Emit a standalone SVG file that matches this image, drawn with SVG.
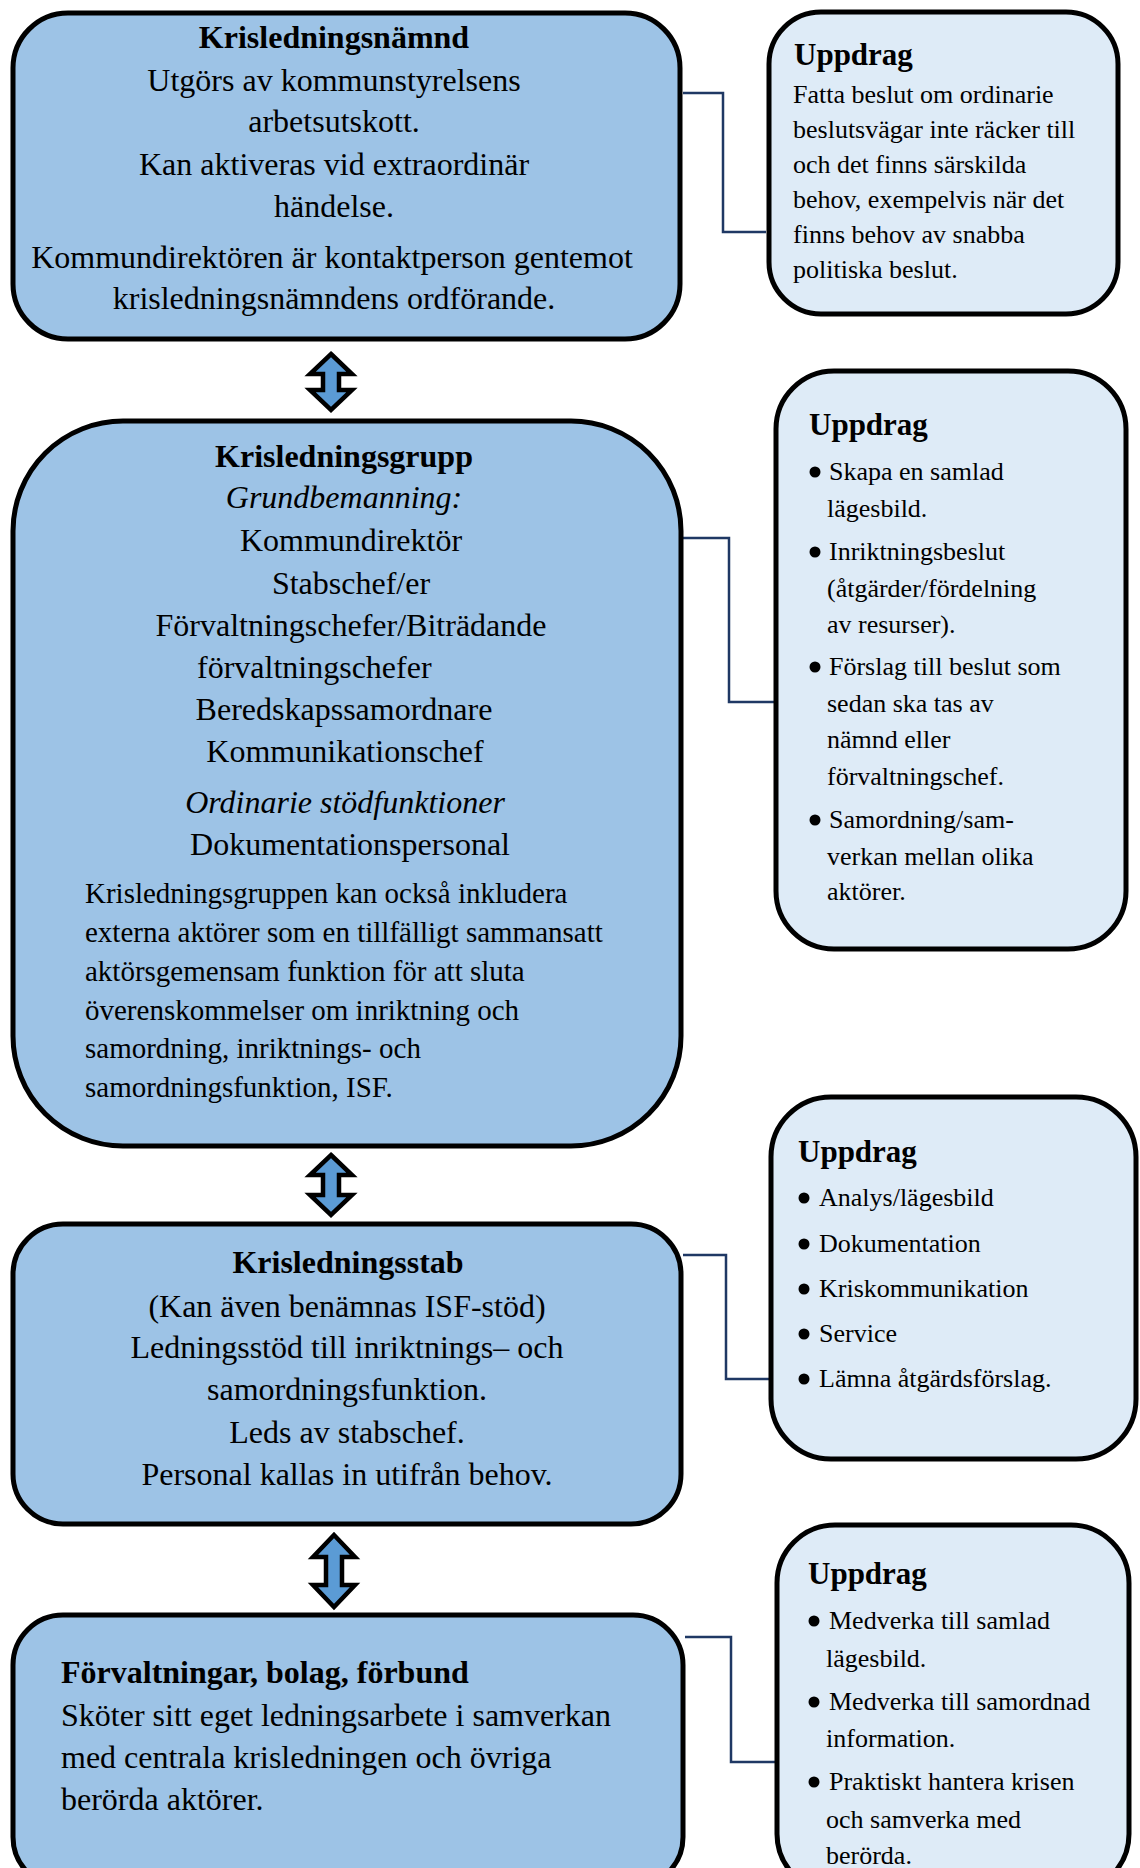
<svg xmlns="http://www.w3.org/2000/svg" width="1140" height="1868" viewBox="0 0 1140 1868">
<defs>
<style>
.main{fill:#9DC3E6;stroke:#000;stroke-width:5}
.side{fill:#DEEBF7;stroke:#000;stroke-width:5}
.conn{fill:none;stroke:#1F3864;stroke-width:2.5}
.arr{fill:#5B9BD5;stroke:#000;stroke-width:4.5;stroke-linejoin:miter}
text{font-family:"Liberation Serif","Times New Roman",serif;fill:#000}
.t32{font-size:32px}
.t29{font-size:29px}
.t26{font-size:26px}
.b{font-weight:bold}
.i{font-style:italic}
.c{text-anchor:middle}
.h{font-size:31px;font-weight:bold}
.dot{fill:#000}
</style>
</defs>
<rect width="1140" height="1868" fill="#fff"/>

<g id="connectors">
<path class="conn" d="M683,93 H723 V232 H766"/>
<path class="conn" d="M683,538 H729 V702 H776"/>
<path class="conn" d="M683,1255 H726 V1379 H771"/>
<path class="conn" d="M685,1637 H731 V1762 H777"/>
<path class="arr" d="M331 354 L352 374 L339 374 L339 390 L352 390 L331 410 L310 390 L323 390 L323 374 L310 374 Z"/>
<path class="arr" d="M331 1155 L352 1175 L339 1175 L339 1195 L352 1195 L331 1215 L310 1195 L323 1195 L323 1175 L310 1175 Z"/>
<path class="arr" d="M334 1535 L355 1557 L342 1557 L342 1585 L355 1585 L334 1607 L313 1585 L326 1585 L326 1557 L313 1557 Z"/>
</g>

<g id="krisledningsnamnd">
<rect class="main" x="13" y="13" width="667" height="326" rx="55" ry="55"/>
<text class="t32 b c" x="334" y="48">Krisledningsnämnd</text>
<text class="t32 c" x="334" y="91">Utgörs av kommunstyrelsens</text>
<text class="t32 c" x="334" y="132">arbetsutskott.</text>
<text class="t32 c" x="334" y="175">Kan aktiveras vid extraordinär</text>
<text class="t32 c" x="334" y="217">händelse.</text>
<text class="t32 c" x="332" y="268">Kommundirektören är kontaktperson gentemot</text>
<text class="t32 c" x="334" y="309">krisledningsnämndens ordförande.</text>
</g>

<g id="uppdrag1">
<rect class="side" x="769" y="12" width="349" height="302" rx="52" ry="52"/>
<text class="h" x="794" y="65">Uppdrag</text>
<text class="t26" x="793" y="103">Fatta beslut om ordinarie</text>
<text class="t26" x="793" y="138">beslutsvägar inte räcker till</text>
<text class="t26" x="793" y="173">och det finns särskilda</text>
<text class="t26" x="793" y="208">behov, exempelvis när det</text>
<text class="t26" x="793" y="243">finns behov av snabba</text>
<text class="t26" x="793" y="278">politiska beslut.</text>
</g>

<g id="krisledningsgrupp">
<rect class="main" x="13" y="421" width="668" height="725" rx="110" ry="110"/>
<text class="t32 b c" x="344" y="467">Krisledningsgrupp</text>
<text class="t32 i c" x="344" y="508">Grundbemanning:</text>
<text class="t32 c" x="351" y="551">Kommundirektör</text>
<text class="t32 c" x="351" y="594">Stabschef/er</text>
<text class="t32 c" x="351" y="636">Förvaltningschefer/Biträdande</text>
<text class="t32" x="197" y="678">förvaltningschefer</text>
<text class="t32 c" x="344" y="720">Beredskapssamordnare</text>
<text class="t32 c" x="345" y="762">Kommunikationschef</text>
<text class="t32 i c" x="345" y="813">Ordinarie stödfunktioner</text>
<text class="t32 c" x="350" y="855">Dokumentationspersonal</text>
<text class="t29" x="85" y="903">Krisledningsgruppen kan också inkludera</text>
<text class="t29" x="85" y="942">externa aktörer som en tillfälligt sammansatt</text>
<text class="t29" x="85" y="981">aktörsgemensam funktion för att sluta</text>
<text class="t29" x="85" y="1020">överenskommelser om inriktning och</text>
<text class="t29" x="85" y="1058">samordning, inriktnings- och</text>
<text class="t29" x="85" y="1097">samordningsfunktion, ISF.</text>
</g>

<g id="uppdrag2">
<rect class="side" x="776" y="371" width="350" height="578" rx="58" ry="58"/>
<text class="h" x="809" y="435">Uppdrag</text>
<circle class="dot" cx="815" cy="472" r="5.5"/>
<text class="t26" x="829" y="480">Skapa en samlad</text>
<text class="t26" x="827" y="517">lägesbild.</text>
<circle class="dot" cx="815" cy="552" r="5.5"/>
<text class="t26" x="829" y="560">Inriktningsbeslut</text>
<text class="t26" x="827" y="597">(åtgärder/fördelning</text>
<text class="t26" x="827" y="633">av resurser).</text>
<circle class="dot" cx="815" cy="667" r="5.5"/>
<text class="t26" x="829" y="675">Förslag till beslut som</text>
<text class="t26" x="827" y="712">sedan ska tas av</text>
<text class="t26" x="827" y="748">nämnd eller</text>
<text class="t26" x="827" y="785">förvaltningschef.</text>
<circle class="dot" cx="815" cy="820" r="5.5"/>
<text class="t26" x="829" y="828">Samordning/sam-</text>
<text class="t26" x="827" y="865">verkan mellan olika</text>
<text class="t26" x="827" y="900">aktörer.</text>
</g>

<g id="krisledningsstab">
<rect class="main" x="13" y="1224" width="668" height="300" rx="50" ry="50"/>
<text class="t32 b c" x="348" y="1273">Krisledningsstab</text>
<text class="t32 c" x="347" y="1317">(Kan även benämnas ISF-stöd)</text>
<text class="t32 c" x="347" y="1358">Ledningsstöd till inriktnings– och</text>
<text class="t32 c" x="347" y="1400">samordningsfunktion.</text>
<text class="t32 c" x="347" y="1443">Leds av stabschef.</text>
<text class="t32 c" x="347" y="1485">Personal kallas in utifrån behov.</text>
</g>

<g id="uppdrag3">
<rect class="side" x="771" y="1097" width="365" height="362" rx="60" ry="60"/>
<text class="h" x="798" y="1162">Uppdrag</text>
<circle class="dot" cx="804" cy="1198" r="5.5"/>
<text class="t26" x="819" y="1206">Analys/lägesbild</text>
<circle class="dot" cx="804" cy="1244" r="5.5"/>
<text class="t26" x="819" y="1252">Dokumentation</text>
<circle class="dot" cx="804" cy="1289" r="5.5"/>
<text class="t26" x="819" y="1297">Kriskommunikation</text>
<circle class="dot" cx="804" cy="1334" r="5.5"/>
<text class="t26" x="819" y="1342">Service</text>
<circle class="dot" cx="804" cy="1379" r="5.5"/>
<text class="t26" x="819" y="1387">Lämna åtgärdsförslag.</text>
</g>

<g id="forvaltningar">
<rect class="main" x="13" y="1615" width="670" height="272" rx="50" ry="50"/>
<text class="t32 b" x="61" y="1683">Förvaltningar, bolag, förbund</text>
<text class="t32" x="61" y="1726">Sköter sitt eget ledningsarbete i samverkan</text>
<text class="t32" x="61" y="1768">med centrala krisledningen och övriga</text>
<text class="t32" x="61" y="1810">berörda aktörer.</text>
</g>

<g id="uppdrag4">
<rect class="side" x="777" y="1525" width="352" height="367" rx="58" ry="58"/>
<text class="h" x="808" y="1584">Uppdrag</text>
<circle class="dot" cx="814" cy="1621" r="5.5"/>
<text class="t26" x="829" y="1629">Medverka till samlad</text>
<text class="t26" x="826" y="1667">lägesbild.</text>
<circle class="dot" cx="814" cy="1702" r="5.5"/>
<text class="t26" x="829" y="1710">Medverka till samordnad</text>
<text class="t26" x="826" y="1747">information.</text>
<circle class="dot" cx="814" cy="1782" r="5.5"/>
<text class="t26" x="829" y="1790">Praktiskt hantera krisen</text>
<text class="t26" x="826" y="1828">och samverka med</text>
<text class="t26" x="826" y="1864">berörda.</text>
</g>
</svg>
